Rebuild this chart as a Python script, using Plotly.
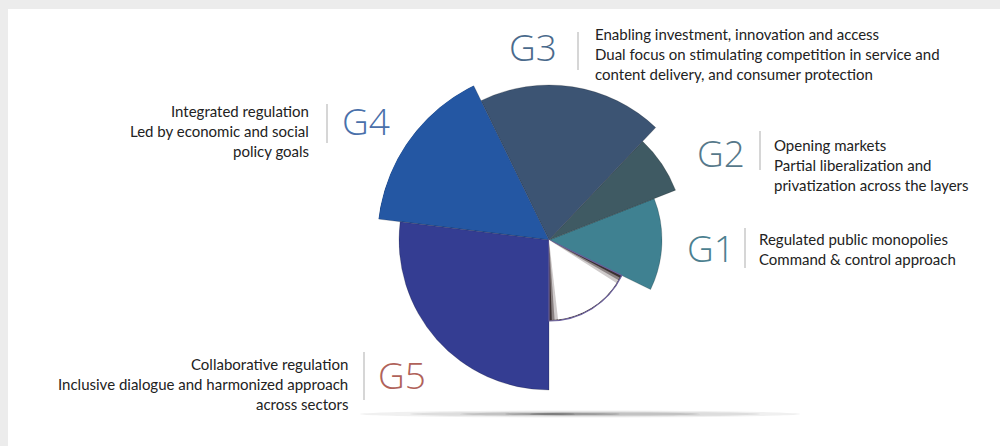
import plotly.graph_objects as go

# ---- data ----
segments = ["G1", "G2", "G3", "G4", "G5", "blank"]
radius = [113, 136, 155, 172, 150, 81]
start_deg = [-26, 21.5, 46.5, 116, 173, 270]
span_deg = [47.5, 25, 69.5, 57, 97, 64]
colors = ["#3f8191", "#3f5a63", "#3c5473", "#2457a3", "#343d92", "#ffffff"]

label_titles = ["G1", "G2", "G3", "G4", "G5"]
label_colors = ["#4c7f90", "#56788a", "#4a6a8c", "#4a70aa", "#b0625a"]
descriptions = {
    "G1": ["Regulated public monopolies", "Command & control approach"],
    "G2": ["Opening markets", "Partial liberalization and", "privatization across the layers"],
    "G3": ["Enabling investment, innovation and access",
           "Dual focus on stimulating competition in service and",
           "content delivery, and consumer protection"],
    "G4": ["Integrated regulation", "Led by economic and social", "policy goals"],
    "G5": ["Collaborative regulation", "Inclusive dialogue and harmonized approach",
           "across sectors"],
}

W, H = 1000, 446
CX, CY, RMAX = 549, 240, 172


def px(x):
    return x / W


def py(y):
    return 1 - y / H


theta_c = [s + w / 2 for s, w in zip(start_deg, span_deg)]

fig = go.Figure()

# main wedges (except blank)
n = len(segments)
main_idx = [i for i in range(n) if segments[i] != "blank"]
fig.add_trace(go.Barpolar(
    r=[radius[i] for i in main_idx],
    theta=[theta_c[i] for i in main_idx],
    width=[span_deg[i] for i in main_idx],
    marker=dict(color=[colors[i] for i in main_idx],
                line=dict(color="rgba(0,0,0,0.18)", width=1)),
    hoverinfo="skip", showlegend=False,
))

# blank wedge with shading layers
bi = segments.index("blank")
shade_cols = ["#3a3030", "#8a8282", "#cfcbcb", "#ffffff"]
insets = [0, 2.0, 4.0, 6.5]
for k, (sc, ins) in enumerate(zip(shade_cols, insets)):
    fig.add_trace(go.Barpolar(
        r=[radius[bi] - (0 if k == 0 else 1)],
        theta=[theta_c[bi]],
        width=[span_deg[bi] - 2 * ins],
        marker=dict(color=sc,
                    line=dict(color="#6a5f9c" if k == 0 else sc, width=1.2 if k == 0 else 0)),
        hoverinfo="skip", showlegend=False,
    ))

annotations = []
label_pos = {
    "G3": dict(gx=533, gy=47, sep=578, sy0=32, sy1=70, tx=593, ty=34, side="right"),
    "G4": dict(gx=366, gy=120, sep=327, sy0=104, sy1=143, tx=311, ty=111, side="left"),
    "G2": dict(gx=721, gy=152, sep=760, sy0=131, sy1=170, tx=772, ty=145, side="right"),
    "G1": dict(gx=711, gy=247, sep=745, sy0=228, sy1=268, tx=757, ty=239, side="right"),
    "G5": dict(gx=402, gy=374, sep=364, sy0=352, sy1=400, tx=350, ty=364, side="left"),
}
shapes = [
    dict(type="rect", xref="paper", yref="paper", x0=px(8), x1=1.0, y0=0, y1=py(9),
         fillcolor="white", line=dict(width=0), layer="below"),
]
# ground shadow
for (x0, x1, y0, y1, op) in [(360, 800, 410.5, 417.5, 0.06), (410, 760, 411.5, 416.5, 0.08),
                             (460, 700, 412.3, 415.7, 0.12), (505, 620, 412.8, 415.2, 0.2),
                             (530, 575, 413.2, 414.8, 0.25)]:
    shapes.append(dict(type="circle", xref="paper", yref="paper",
                       x0=px(x0), x1=px(x1), y0=py(y1), y1=py(y0),
                       fillcolor=f"rgba(0,0,0,{op})", line=dict(width=0), layer="below"))

for t, c in zip(label_titles, label_colors):
    p = label_pos[t]
    annotations.append(dict(text=t, x=px(p["gx"]), y=py(p["gy"]), xref="paper", yref="paper",
                            xanchor="center", yanchor="middle", showarrow=False,
                            font=dict(family="Open Sans", size=37, color=c, weight=300)))
    shapes.append(dict(type="line", xref="paper", yref="paper",
                       x0=px(p["sep"]), x1=px(p["sep"]), y0=py(p["sy0"]), y1=py(p["sy1"]),
                       line=dict(color="#c8c8c8", width=1.5)))
    for j, line in enumerate(descriptions[t]):
        annotations.append(dict(text=line, x=px(p["tx"]), y=py(p["ty"] + 20 * j),
                                xref="paper", yref="paper",
                                xanchor="left" if p["side"] == "right" else "right",
                                yanchor="middle", showarrow=False,
                                font=dict(family="Lato", size=15, color="#222222")))

fig.update_layout(
    width=W, height=H,
    margin=dict(l=0, r=0, t=0, b=0),
    paper_bgcolor="#ececec",
    polar=dict(
        domain=dict(x=[px(CX - RMAX), px(CX + RMAX)], y=[py(CY + RMAX), py(CY - RMAX)]),
        bgcolor="rgba(0,0,0,0)",
        radialaxis=dict(range=[0, RMAX], visible=False),
        angularaxis=dict(visible=False, direction="counterclockwise", rotation=0),
        bargap=0,
        barmode="overlay",
    ),
    shapes=shapes,
    annotations=annotations,
    showlegend=False,
)

fig.write_html("out.html", config={"displayModeBar": False},
               post_script="document.body.style.margin='0px';")
